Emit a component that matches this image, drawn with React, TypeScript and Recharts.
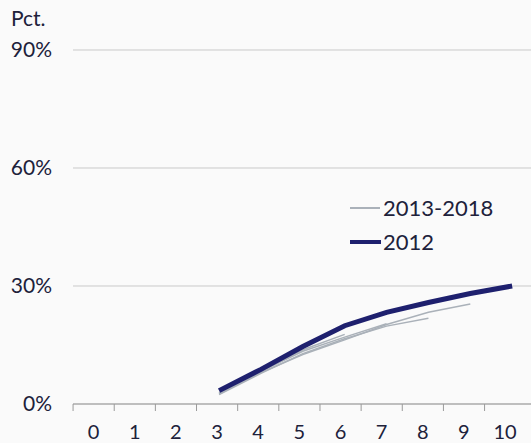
import { LineChart, Line, XAxis, YAxis, CartesianGrid, Legend } from "recharts";

const years = [3, 4, 5, 6, 7, 8, 9, 10];
const xTicks = [0, 1, 2, 3, 4, 5, 6, 7, 8, 9, 10];
const yTicks = [0, 30, 60, 90];

const s2012 = [3.4, 8.8, 14.6, 19.9, 23.3, 25.8, 28.1, 30.0];
const s2013 = [2.6, 8.0, 12.6, 16.3, 20.2, 23.3, 25.4];
const s2014 = [2.4, 7.8, 12.8, 16.6, 19.8, 21.8];
const s2015 = [2.8, 8.3, 13.4, 17.0, 20.4];
const s2016 = [2.5, 8.4, 13.8, 17.7];
const s2017 = [2.7, 8.6, 14.0];
const s2018 = [2.9, 8.2];

const grayNames = ["2013", "2014", "2015", "2016", "2017", "2018"];
const grays = [s2013, s2014, s2015, s2016, s2017, s2018];

const NAVY = "#1e206e";
const GRAY = "#aab1b9";
const TEXT = "#20213a";
const FONT = "Lato, sans-serif";

const toRows = (vals: number[]) => vals.map((v, i) => ({ x: years[i], v }));

const BandTick = (props: any) => {
  const { x, y, payload } = props;
  return (
    <g>
      <line x1={x - 20.5} y1={y} x2={x - 20.5} y2={y + 7} stroke="#9a9a9a" />
      <text x={x} y={y + 35} textAnchor="middle" fill={TEXT} fontSize={20} fontFamily={FONT}>
        {payload.value}
      </text>
    </g>
  );
};

const LegendBox = () => (
  <div style={{ fontFamily: FONT, fontSize: 22, color: TEXT, lineHeight: "34px" }}>
    <div style={{ display: "flex", alignItems: "center" }}>
      <span style={{ width: 30, height: 2, background: GRAY, marginRight: 3 }} />
      2013-2018
    </div>
    <div style={{ display: "flex", alignItems: "center" }}>
      <span style={{ width: 31, height: 4, background: NAVY, marginRight: 2 }} />
      2012
    </div>
  </div>
);

export default function App() {
  return (
    <div style={{ position: "relative", width: 531, height: 443, background: "#fafafa" }}>
      <style>{`body{margin:0;background:#fafafa}`}</style>
      <div
        style={{
          position: "absolute",
          left: 11,
          top: 5,
          fontFamily: FONT,
          fontSize: 21,
          color: TEXT,
        }}
      >
        Pct.
      </div>
      <LineChart width={531} height={443} margin={{ top: 50, right: 0, left: 0, bottom: 0 }}>
        <CartesianGrid xAxisId="lab" vertical={false} stroke="#c9c9c9" />
        <XAxis
          xAxisId="lab"
          type="number"
          dataKey="x"
          domain={[-0.5, 10.63]}
          ticks={xTicks}
          interval={0}
          height={39}
          axisLine={{ stroke: "#9a9a9a" }}
          tickLine={false}
          tickSize={0}
          tickMargin={0}
          tick={<BandTick />}
          allowDataOverflow
        />
        <XAxis xAxisId="line" type="number" dataKey="x" domain={[-0.49, 10.45]} hide allowDataOverflow />
        <YAxis
          type="number"
          domain={[0, 90]}
          ticks={yTicks}
          width={73}
          axisLine={false}
          tickLine={false}
          tickMargin={15}
          tickFormatter={(v: number) => `${v}%`}
          tick={{ fill: TEXT, fontSize: 21, fontFamily: FONT }}
        />
        <Legend
          layout="horizontal"
          verticalAlign="middle"
          content={<LegendBox />}
          wrapperStyle={{ left: 350, top: 191, width: 180, bottom: "auto" }}
        />
        {grays.map((s, i) => (
          <Line
            key={grayNames[i]}
            xAxisId="line"
            data={toRows(s)}
            dataKey="v"
            name={grayNames[i]}
            stroke={GRAY}
            strokeWidth={1.5}
            dot={false}
            isAnimationActive={false}
          />
        ))}
        <Line
          xAxisId="line"
          data={toRows(s2012)}
          dataKey="v"
          name="2012"
          stroke={NAVY}
          strokeWidth={5}
          dot={false}
          isAnimationActive={false}
        />
      </LineChart>
    </div>
  );
}
